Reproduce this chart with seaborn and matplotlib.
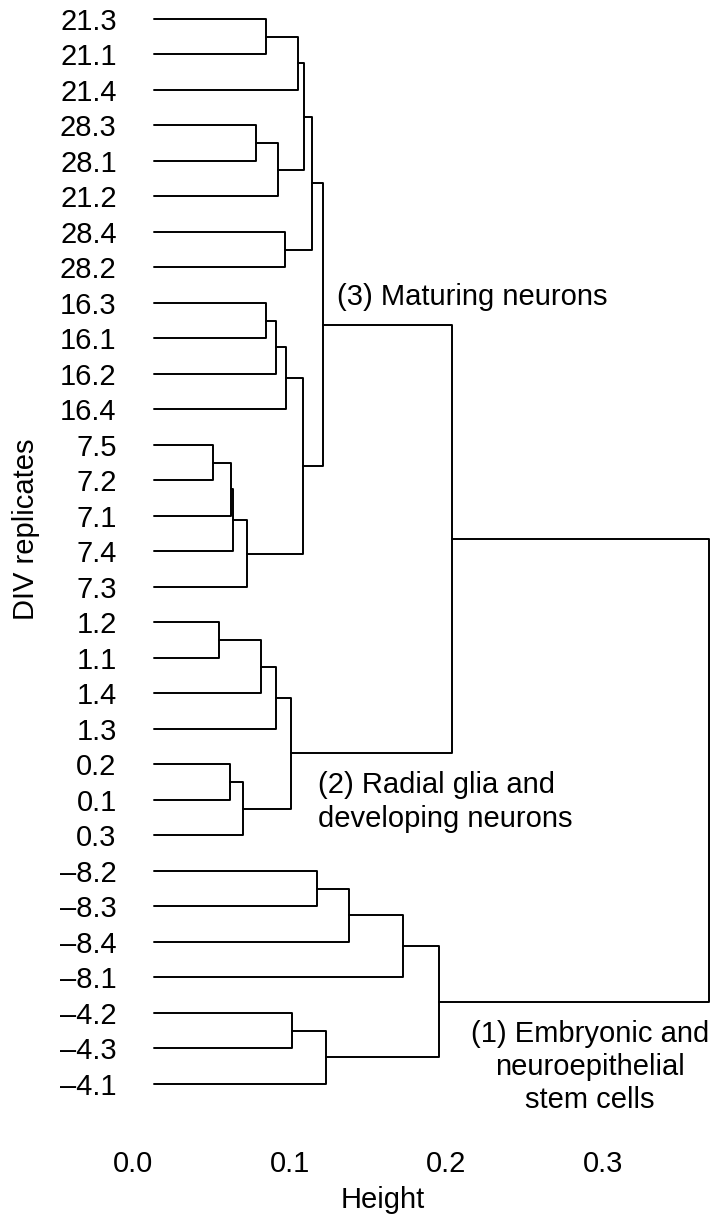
import numpy as np
import pandas as pd
import matplotlib
matplotlib.use("Agg")
import matplotlib.pyplot as plt
import seaborn as sns

# ---------------- data ----------------
leaves = ["21.3", "21.1", "21.4", "28.3", "28.1", "21.2", "28.4", "28.2",
          "16.3", "16.1", "16.2", "16.4",
          "7.5", "7.2", "7.1", "7.4", "7.3",
          "1.2", "1.1", "1.4", "1.3",
          "0.2", "0.1", "0.3",
          "\u20138.2", "\u20138.3", "\u20138.4", "\u20138.1",
          "\u20134.2", "\u20134.3", "\u20134.1"]

# merges: node ids 0..30 are leaves, new node ids start at 31 (in order)
merge_left = [0, 31, 3, 33, 32, 6, 35, 8, 38, 39, 12, 41, 42, 43, 40, 37,
              17, 47, 48, 21, 50, 49, 46, 24, 54, 55, 28, 57, 56, 53]
merge_right = [1, 2, 4, 5, 34, 7, 36, 9, 10, 11, 13, 14, 15, 16, 44, 45,
               18, 19, 20, 22, 23, 51, 52, 25, 26, 27, 29, 30, 58, 59]
merge_height = [0.0850, 0.1054, 0.0786, 0.0926, 0.1092, 0.0969, 0.1143,
                0.0850, 0.0911, 0.0975, 0.0510, 0.0625, 0.0641, 0.0727,
                0.1085, 0.1213, 0.0552, 0.0816, 0.0911, 0.0620, 0.0705,
                0.1007, 0.2033, 0.1173, 0.1379, 0.1721, 0.1013, 0.1230,
                0.1954, 0.3675]

height_ticks = [0.0, 0.1, 0.2, 0.3]
height_labels = ["0.0", "0.1", "0.2", "0.3"]

cluster_labels = {
    "c3": ["(3) Maturing neurons"],
    "c2": ["(2) Radial glia and", "developing neurons"],
    "c1": ["(1) Embryonic and", "neuroepithelial", "stem cells"],
}

# ---------------- style ----------------
sns.set_theme(style="white")
plt.rcParams["font.family"] = ["Liberation Sans", "DejaVu Sans"]
plt.rcParams["text.color"] = "black"
FS = 21
LEAF_H = 0.0136  # where leaf stubs start

# ---------------- layout of the tree ----------------
n = len(leaves)
node_y = {i: float(i) for i in range(n)}
node_h = {i: LEAF_H for i in range(n)}
rows = []
for k, (a, b, h) in enumerate(zip(merge_left, merge_right, merge_height)):
    nid = n + k
    ya, yb = node_y[a], node_y[b]
    pts = [(node_h[a], ya), (h, ya), (h, yb), (node_h[b], yb)]
    for j, (x, y) in enumerate(pts):
        rows.append({"seg": nid, "ord": j, "x": x, "y": y})
    node_y[nid] = (ya + yb) / 2
    node_h[nid] = h
seg_df = pd.DataFrame(rows)

# ---------------- figure ----------------
W, H = 718, 1218
fig = plt.figure(figsize=(W / 100, H / 100), dpi=100)
ax = fig.add_axes([120 / W, 1 - 1130 / H, 598 / W, 1130 / H])

sns.lineplot(data=seg_df, x="x", y="y", units="seg", estimator=None,
             sort=False, color="black", linewidth=1.4, ax=ax, legend=False)

ax.set_xlim(-0.0081, 0.3730)
ax.set_ylim(31.296, -0.5352)
ax.set_xticks(height_ticks)
ax.set_xticklabels(height_labels)
ax.set_yticks(range(n))
ax.set_yticklabels(leaves)
ax.tick_params(axis="x", length=0, pad=14.4, labelsize=FS, colors="black")
ax.tick_params(axis="y", length=0, pad=2.4, labelsize=FS, colors="black")
ax.set_xlabel("")
ax.set_ylabel("")
sns.despine(ax=ax, left=True, bottom=True)

# cluster annotations
def put_lines(lines, x, y0, dy, ha):
    for i, s in enumerate(lines):
        ax.text(x, y0 + i * dy, s, fontsize=FS, ha=ha, va="baseline", color="black")

put_lines(cluster_labels["c3"], 0.1300, 8.06, 0.96, "left")
put_lines(cluster_labels["c2"], 0.1183, 21.81, 0.96, "left")
put_lines(cluster_labels["c1"], 0.2915, 28.81, 0.93, "center")

fig.text(383 / W, 1 - 1208 / H, "Height", fontsize=FS, ha="center",
         va="baseline", color="black")
fig.text(26 / W, 1 - 529 / H, "DIV replicates", fontsize=FS, ha="center",
         va="center", rotation=90, color="black")

fig.savefig("out.png", dpi=100)
